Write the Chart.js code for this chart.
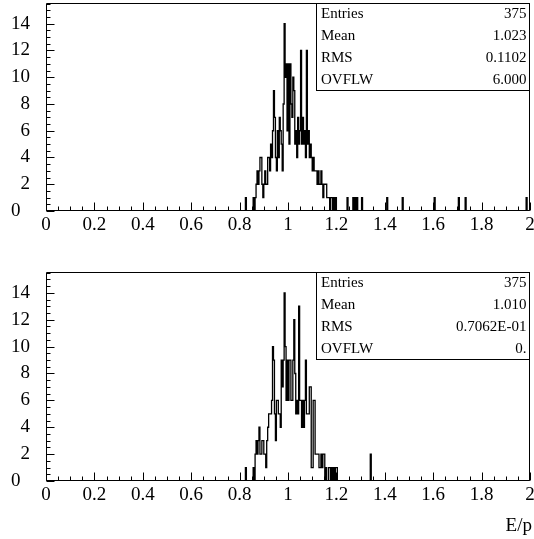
<!DOCTYPE html>
<html><head><meta charset="utf-8">
<script src="https://cdn.jsdelivr.net/npm/chart.js@4"></script>
<style>
html,body{margin:0;padding:0;background:#fff;}
#wrap{position:relative;width:534px;height:539px;overflow:hidden;}
canvas{position:absolute;left:0;}
</style></head><body>
<div id="wrap">
<canvas id="c1" width="534" height="250" style="top:0;width:534px;height:250px"></canvas>
<canvas id="c2" width="534" height="270" style="top:269px;width:534px;height:270px"></canvas>
</div>
<script>
// ---- data ----
const xTickValues = [0, 0.2, 0.4, 0.6, 0.8, 1, 1.2, 1.4, 1.6, 1.8, 2];
const yTickValues = [0, 2, 4, 6, 8, 10, 12, 14];
const xMin = 0, xMax = 2, yMax = 15.55;
const binWidth = 0.004;
const peakStart = 0.820;           // low edge of first listed bin
// upper histogram: counts per bin from 0.820 upward
const topCounts = [
  0,1,0,0,0,0,0,0,0,1,
  0,1,2,3,2,3,4,4,2,1,
  2,3,2,2,4,4,3,5,4,6,
  9,7,4,3,6,4,7,6,5,3,
  8,14,10,11,6,11,5,11,8,7,
  10,9,5,6,4,7,5,6,12,5,
  7,5,6,4,12,5,6,4,5,4,
  3,4,3,3,3,2,3,2,2,3,
  2,1,2,2,2,1,1,1,0,1,1,0,1,0,1
];
// upper histogram: isolated single entries in the tail
const topTail = [1.244, 1.268, 1.276, 1.284, 1.304, 1.408, 1.472, 1.604, 1.704, 1.732, 1.984];
// lower histogram
const bottomCounts = [
  0,1,0,0,0,0,0,0,0,1,
  0,2,3,2,3,4,2,2,3,3,
  2,2,1,3,4,5,5,5,6,10,
  9,5,3,6,6,5,5,4,9,7,
  9,14,10,6,9,6,9,9,6,6,
  9,12,8,5,6,5,13,6,6,4,
  6,4,6,9,5,5,5,7,7,1,
  1,6,6,2,2,2,2,1,1,2,
  1,2,2,0,1,0,0,1,1,0,1,0,1,0,1,1
];
const bottomTail = [1.340, 1.340];
const statsLabels = ['Entries', 'Mean', 'RMS', 'OVFLW'];
const topStats = ['375', '1.023', '0.1102', '6.000'];
const bottomStats = ['375', '1.010', '0.7062E-01', '0.'];
const xTitle = 'E/p';

// ---- build histogram outline points ----
function buildPoints(counts, tail) {
  const n = Math.round((xMax - xMin) / binWidth);
  const bins = new Array(n).fill(0);
  const s = Math.round(peakStart / binWidth);
  counts.forEach((c, i) => { bins[s + i] += c; });
  tail.forEach(v => { bins[Math.floor(v / binWidth + 1e-6)] += 1; });
  const pts = bins.map((c, k) => ({x: xMin + k * binWidth, y: c}));
  pts.push({x: xMax, y: 0});
  return pts;
}

const FONT = 'Liberation Serif';
function fmt(v) { return String(parseFloat(Number(v).toFixed(3))); }

function framePlugin(stats, showTitle) {
  return {
    id: 'frame',
    afterDraw(chart) {
      const ctx = chart.ctx, a = chart.chartArea;
      const xs = chart.scales.x, ys = chart.scales.y;
      const L = Math.round(a.left) + 0.5, R = Math.round(a.right) - 0.5;
      const T = Math.round(a.top) + 0.5, B = Math.round(a.bottom) - 0.5;
      ctx.save();
      ctx.strokeStyle = '#000';
      ctx.lineWidth = 1;
      ctx.beginPath();
      ctx.rect(L, T, R - L, B - T);
      for (let k = 0; k <= 40; k++) {
        const v = k * 0.05;
        const major = k % 4 === 0;
        const px = Math.round(xs.getPixelForValue(v)) + 0.5;
        ctx.moveTo(px, B); ctx.lineTo(px, B - (major ? 8 : 4));
      }
      for (let k = 0; k * 0.5 <= yMax; k++) {
        const v = k * 0.5;
        const major = k % 4 === 0;
        const py = Math.round(ys.getPixelForValue(v)) + 0.5;
        ctx.moveTo(L, py); ctx.lineTo(L + (major ? 8 : 4), py);
      }
      ctx.stroke();
      const bx = 316.5, bt = T, bb = T + 87;
      ctx.fillStyle = '#fff';
      ctx.fillRect(bx, bt, R - bx, bb - bt);
      ctx.strokeRect(bx, bt, R - bx, bb - bt);
      ctx.fillStyle = '#000';
      ctx.font = '15px "' + FONT + '"';
      ctx.textBaseline = 'middle';
      statsLabels.forEach((lab, i) => {
        const yy = bt + 11 + 22 * i;
        ctx.textAlign = 'left';
        ctx.fillText(lab, 321, yy);
        ctx.textAlign = 'right';
        ctx.fillText(stats[i], R - 3, yy);
      });
      if (showTitle) {
        ctx.font = '19px "' + FONT + '"';
        ctx.textAlign = 'right';
        ctx.textBaseline = 'alphabetic';
        ctx.fillText(xTitle, 532, chart.height - 8);
      }
      ctx.restore();
    }
  };
}

function makeChart(id, counts, tail, stats, xHeight, showTitle) {
  return new Chart(document.getElementById(id), {
    type: 'line',
    data: { datasets: [{
      data: buildPoints(counts, tail),
      stepped: 'before',
      borderColor: '#000',
      borderWidth: 1.3,
      pointRadius: 0,
      fill: false,
      tension: 0
    }]},
    options: {
      responsive: false,
      animation: false,
      events: [],
      layout: { padding: { top: 3, right: 4, left: 0, bottom: 0 } },
      plugins: { legend: { display: false }, tooltip: { enabled: false } },
      scales: {
        x: {
          type: 'linear', min: xMin, max: xMax,
          grid: { display: false, drawTicks: false },
          border: { display: false },
          afterBuildTicks: s => { s.ticks = xTickValues.map(v => ({value: v})); },
          afterFit: s => { s.height = xHeight; s.paddingLeft = 0; s.paddingRight = 0; },
          ticks: { autoSkip: false, maxRotation: 0, padding: 3, color: '#000',
                   font: { family: FONT, size: 19 }, callback: v => fmt(v) }
        },
        y: {
          type: 'linear', min: 0, max: yMax,
          grid: { display: false, drawTicks: false },
          border: { display: false },
          afterBuildTicks: s => { s.ticks = yTickValues.map(v => ({value: v})); },
          afterFit: s => { s.width = 46; s.paddingTop = 0; s.paddingBottom = 0; },
          ticks: { padding: 16, color: '#000',
                   font: { family: FONT, size: 19 },
                   callback: v => (v === 0 ? '0\u2002' : fmt(v)) }
        }
      }
    },
    plugins: [framePlugin(stats, showTitle)]
  });
}

makeChart('c1', topCounts, topTail, topStats, 39, false);
makeChart('c2', bottomCounts, bottomTail, bottomStats, 58, true);
</script>
</body></html>
